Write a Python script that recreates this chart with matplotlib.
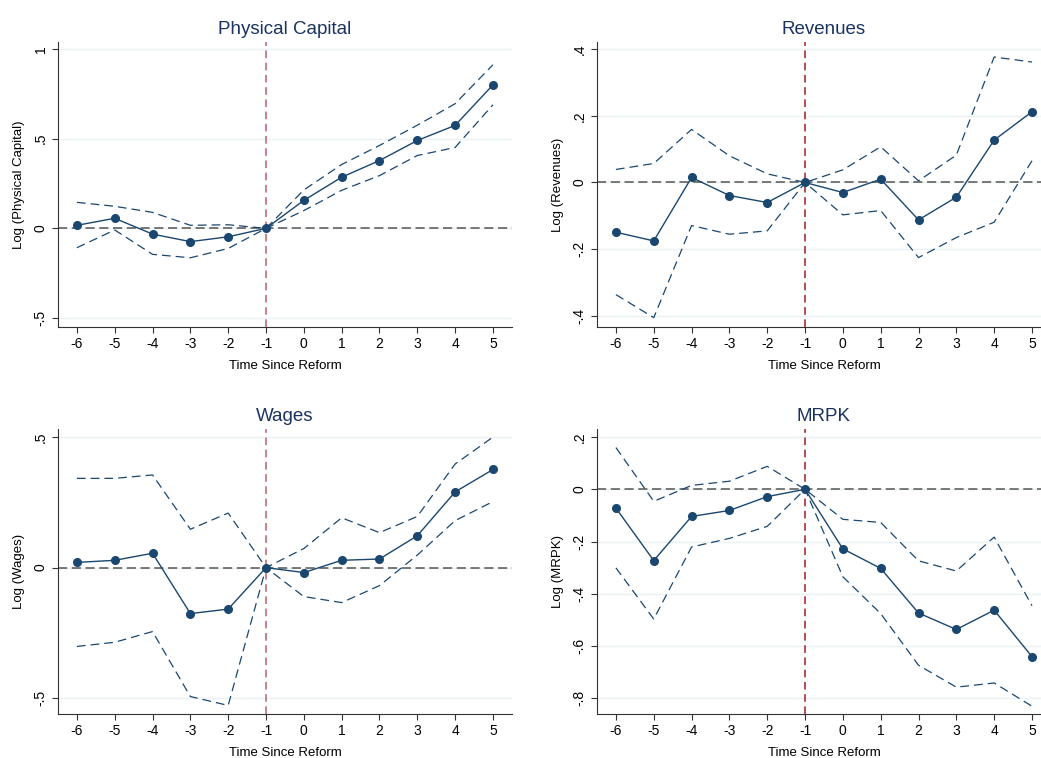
import matplotlib.pyplot as plt
from matplotlib.ticker import FixedLocator, FuncFormatter

plt.rcParams['font.family'] = ['Liberation Sans', 'DejaVu Sans']
plt.rcParams['axes.unicode_minus'] = False

# event time
periods = [-6, -5, -4, -3, -2, -1, 0, 1, 2, 3, 4, 5]

# Physical Capital
cap_est = [0.017, 0.056, -0.032, -0.074, -0.047, 0.0, 0.156, 0.285, 0.378, 0.49, 0.574, 0.80]
cap_hi = [0.145, 0.123, 0.089, 0.017, 0.02, 0.0, 0.214, 0.356, 0.462, 0.575, 0.695, 0.912]
cap_lo = [-0.108, -0.009, -0.145, -0.164, -0.112, 0.0, 0.099, 0.212, 0.294, 0.406, 0.451, 0.689]

# Revenues
rev_est = [-0.149, -0.175, 0.015, -0.039, -0.06, 0.0, -0.03, 0.01, -0.112, -0.044, 0.127, 0.212]
rev_hi = [0.039, 0.057, 0.159, 0.08, 0.026, 0.0, 0.038, 0.107, 0.005, 0.082, 0.376, 0.361]
rev_lo = [-0.336, -0.405, -0.129, -0.155, -0.145, 0.0, -0.097, -0.084, -0.225, -0.165, -0.119, 0.065]

# Wages
wag_est = [0.02, 0.028, 0.055, -0.176, -0.159, 0.0, -0.019, 0.028, 0.033, 0.122, 0.29, 0.376]
wag_hi = [0.342, 0.342, 0.355, 0.147, 0.209, 0.0, 0.073, 0.191, 0.134, 0.196, 0.397, 0.50]
wag_lo = [-0.302, -0.286, -0.245, -0.494, -0.528, 0.0, -0.111, -0.134, -0.069, 0.048, 0.18, 0.253]

# MRPK
mrpk_est = [-0.072, -0.273, -0.104, -0.081, -0.028, 0.0, -0.228, -0.303, -0.474, -0.537, -0.463, -0.641]
mrpk_hi = [0.16, -0.046, 0.015, 0.031, 0.088, 0.0, -0.115, -0.127, -0.274, -0.313, -0.183, -0.446]
mrpk_lo = [-0.301, -0.497, -0.221, -0.188, -0.142, 0.0, -0.335, -0.476, -0.674, -0.758, -0.742, -0.831]

navy = '#1a476f'
grid_col = '#eaf2f3'


def stata_fmt(v, pos):
    # Stata style: .5 instead of 0.5
    if abs(v) < 1e-9:
        return '0'
    s = ('%g' % v)
    s = s.replace('0.', '.')
    return s


def panel(ax, title, ylabel, est, hi, lo, yticks, ylim, vcol):
    ax.set_xlim(-6.5, 5.5)
    ax.set_ylim(*ylim)
    for t in yticks:
        ax.axhline(t, color=grid_col, lw=1.0, zorder=0)
    ax.axhline(0, color='#555555', lw=1.1, ls=(0, (6, 3)), zorder=1)
    ax.axvline(-1, color=vcol, lw=1.1, ls=(0, (5, 3)), zorder=1)
    ax.plot(periods, hi, color=navy, lw=0.9, ls=(0, (7, 4)), zorder=2)
    ax.plot(periods, lo, color=navy, lw=0.9, ls=(0, (7, 4)), zorder=2)
    ax.plot(periods, est, color=navy, lw=1.0, marker='o', ms=5.5, zorder=3)
    ax.set_title(title, color='#1a3360', fontsize=13.5, pad=6)
    ax.set_ylabel(ylabel, fontsize=9.5, labelpad=6)
    ax.set_xlabel('Time Since Reform', fontsize=9.5, labelpad=6)
    ax.xaxis.set_major_locator(FixedLocator(periods))
    ax.yaxis.set_major_locator(FixedLocator(yticks))
    ax.yaxis.set_major_formatter(FuncFormatter(stata_fmt))
    for lab in ax.get_yticklabels():
        lab.set_rotation(90)
        lab.set_va('center')
    ax.tick_params(labelsize=10, length=4, color='#333333')
    for s in ['top', 'right']:
        ax.spines[s].set_visible(False)
    for s in ['left', 'bottom']:
        ax.spines[s].set_color('#333333')


fig = plt.figure(figsize=(10.41, 7.58), dpi=100)
w, h = 0.436, 0.376
ax1 = fig.add_axes([0.0557, 0.5686, w, h])
ax2 = fig.add_axes([0.5735, 0.5686, w, h])
ax3 = fig.add_axes([0.0557, 0.058, w, h])
ax4 = fig.add_axes([0.5735, 0.058, w, h])

panel(ax1, 'Physical Capital', 'Log (Physical Capital)', cap_est, cap_hi, cap_lo,
      [-0.5, 0, 0.5, 1], (-0.55, 1.039), '#b8636b')
panel(ax2, 'Revenues', 'Log (Revenues)', rev_est, rev_hi, rev_lo,
      [-0.4, -0.2, 0, 0.2, 0.4], (-0.433, 0.421), '#a01c24')
panel(ax3, 'Wages', 'Log (Wages)', wag_est, wag_hi, wag_lo,
      [-0.5, 0, 0.5], (-0.561, 0.531), '#b8636b')
panel(ax4, 'MRPK', 'Log (MRPK)', mrpk_est, mrpk_hi, mrpk_lo,
      [-0.8, -0.6, -0.4, -0.2, 0, 0.2], (-0.861, 0.231), '#a01c24')

fig.savefig('out.png', dpi=100)
